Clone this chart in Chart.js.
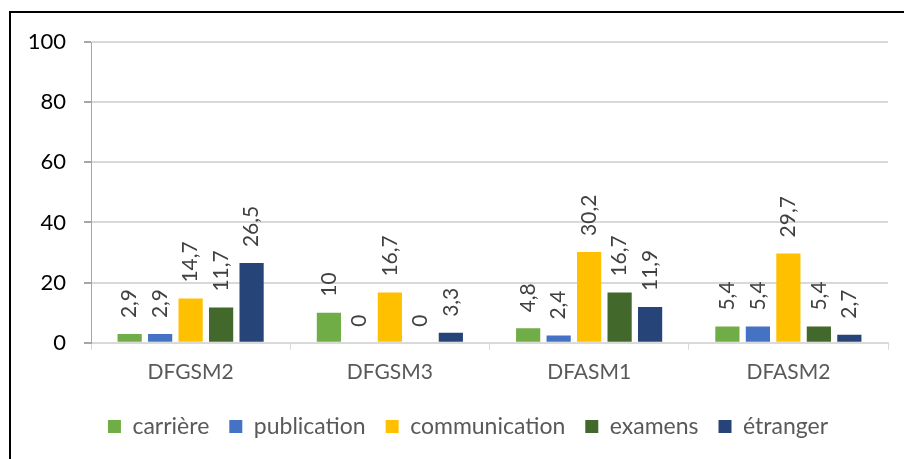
<!DOCTYPE html>
<html>
<head>
<meta charset="utf-8">
<script src="https://cdn.jsdelivr.net/npm/chart.js@4/dist/chart.umd.min.js"></script>
<style>
  html, body { margin: 0; padding: 0; background: #fff; }
  #wrap { position: relative; width: 904px; height: 459px; overflow: hidden; }
  #frame { position: absolute; left: 9px; top: 11px; right: -10px; bottom: -10px;
           border-top: 2px solid #000; border-left: 2px solid #000; pointer-events: none; }
  canvas { position: absolute; left: 0; top: 0; }
</style>
</head>
<body>
<div id="wrap">
  <canvas id="chart" width="904" height="459"></canvas>
  <div id="frame"></div>
</div>
<script>
const categories = ['DFGSM2', 'DFGSM3', 'DFASM1', 'DFASM2'];
const seriesNames = ['carrière', 'publication', 'communication', 'examens', 'étranger'];
const carriere = [2.9, 10, 4.8, 5.4];
const publication = [2.9, 0, 2.4, 5.4];
const communication = [14.7, 16.7, 30.2, 29.7];
const examens = [11.7, 0, 16.7, 5.4];
const etranger = [26.5, 3.3, 11.9, 2.7];
const colors = ['#70ad47', '#4472c4', '#ffc000', '#43682b', '#264478'];
const yTicks = [0, 20, 40, 60, 80, 100];

const FONT = 'Lato, "Liberation Sans", sans-serif';

// labels tournés au-dessus des barres
const valueLabels = {
  id: 'valueLabels',
  afterDatasetsDraw(chart) {
    const ctx = chart.ctx;
    ctx.save();
    ctx.font = '21px ' + FONT;
    ctx.fillStyle = '#404040';
    ctx.textAlign = 'left';
    ctx.textBaseline = 'middle';
    chart.data.datasets.forEach((ds, i) => {
      chart.getDatasetMeta(i).data.forEach((bar, j) => {
        const txt = String(ds.data[j]).replace('.', ',');
        ctx.save();
        ctx.translate(bar.x, bar.y - 16);
        ctx.rotate(-Math.PI / 2);
        ctx.fillText(txt, 0, 0);
        ctx.restore();
      });
    });
    ctx.restore();
  }
};

// décale un peu la légende vers la droite
const legendShift = {
  id: 'legendShift',
  afterLayout(chart) {
    chart.legend.left += 10;
    chart.legend.right += 10;
  }
};

const allData = [carriere, publication, communication, examens, etranger];

new Chart(document.getElementById('chart'), {
  type: 'bar',
  data: {
    labels: categories,
    datasets: seriesNames.map((name, i) => ({
      label: name,
      data: allData[i],
      backgroundColor: colors[i],
      borderWidth: 0,
      categoryPercentage: 0.765,
      barPercentage: 0.794
    }))
  },
  options: {
    responsive: false,
    animation: false,
    layout: { padding: { left: 28, right: 16, top: 42, bottom: 11 } },
    plugins: {
      tooltip: { enabled: false },
      legend: {
        position: 'bottom',
        labels: {
          boxWidth: 13,
          boxHeight: 13,
          padding: 20,
          color: '#595959',
          font: { family: FONT, size: 23 }
        }
      }
    },
    scales: {
      x: {
        grid: { offset: true, drawOnChartArea: false, tickLength: 7, color: '#d9d9d9' },
        border: { color: '#d9d9d9' },
        ticks: { color: '#595959', padding: 10, font: { family: FONT, size: 21 } }
      },
      y: {
        min: 0,
        max: 100,
        afterFit(scale) { scale.width = 63; },
        afterBuildTicks(scale) { scale.ticks = yTicks.map(v => ({ value: v })); },
        grid: { color: '#d9d9d9', tickColor: '#a6a6a6', tickLength: 7, lineWidth: 2 },
        border: { color: '#a6a6a6' },
        ticks: { color: '#000', padding: 18, font: { family: FONT, size: 22 } }
      }
    }
  },
  plugins: [valueLabels, legendShift]
});
</script>
</body>
</html>
